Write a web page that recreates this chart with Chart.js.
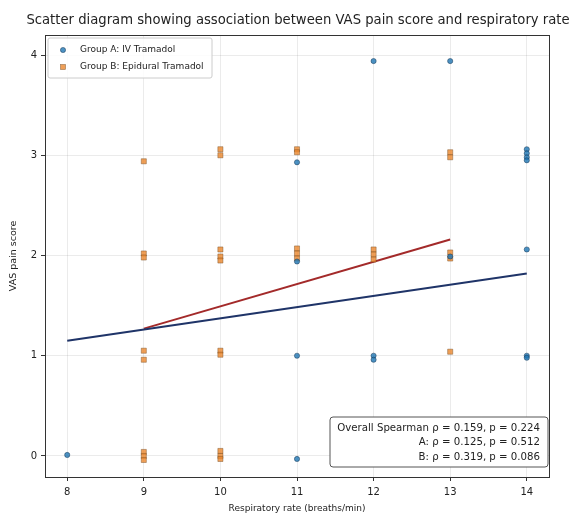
<!DOCTYPE html>
<html>
<head>
<meta charset="utf-8">
<script src="https://cdn.jsdelivr.net/npm/chart.js@4"></script>
<style>
  html, body { margin: 0; padding: 0; background: #fff; }
  #wrap { width: 575px; height: 518px; }
</style>
</head>
<body>
<div id="wrap"><canvas id="chart" width="575" height="518"></canvas></div>
<script>
// Group A: IV Tramadol (jittered)
const groupAX = [8, 11, 11, 11, 11, 12, 12, 12, 13, 13, 14, 14, 14, 14, 14, 14, 14];
const groupAY = [0.01, 2.93, 1.94, 1.0, -0.03, 3.94, 1.0, 0.96, 3.94, 1.99, 3.06, 3.02, 2.98, 2.95, 2.06, 1.0, 0.98];

// Group B: Epidural Tramadol (jittered)
const groupBX = [9, 9, 9, 9, 9, 9, 9, 9,
  10, 10, 10, 10, 10, 10, 10, 10, 10, 10,
  11, 11, 11, 11, 11,
  12, 12, 12,
  13, 13, 13, 13, 13];
const groupBY = [2.94, 2.02, 1.98, 1.05, 0.96, 0.04, 0.0, -0.04,
  3.06, 3.0, 2.06, 1.99, 1.95, 1.05, 1.01, 0.05, 0.0, -0.03,
  3.06, 3.03, 2.07, 2.02, 1.97,
  2.06, 2.01, 1.96,
  3.03, 2.98, 2.03, 1.97, 1.04];

// fitted trend lines
const fitAX = [8, 14];
const fitAY = [1.15, 1.82];
const fitBX = [9, 13];
const fitBY = [1.27, 2.16];

const xTicks = [8, 9, 10, 11, 12, 13, 14];
const yTicks = [0, 1, 2, 3, 4];

const titleText = 'Scatter diagram showing association between VAS pain score and respiratory rate';
const legendLabels = ['Group A: IV Tramadol', 'Group B: Epidural Tramadol'];
const statsLines = [
  'Overall Spearman ρ = 0.159, p = 0.224',
  'A: ρ = 0.125, p = 0.512',
  'B: ρ = 0.319, p = 0.086'
];

const toPoints = (xs, ys) => xs.map((x, i) => ({ x, y: ys[i] }));

const blueFill = 'rgba(31,119,180,0.8)';
const blueEdge = 'rgba(20,50,80,0.8)';
const orangeFill = 'rgba(235,135,45,0.8)';
const orangeEdge = 'rgba(110,70,30,0.7)';
const FONT = 'DejaVu Sans';

function roundRect(ctx, x, y, w, h, r) {
  ctx.beginPath();
  ctx.moveTo(x + r, y);
  ctx.lineTo(x + w - r, y);
  ctx.quadraticCurveTo(x + w, y, x + w, y + r);
  ctx.lineTo(x + w, y + h - r);
  ctx.quadraticCurveTo(x + w, y + h, x + w - r, y + h);
  ctx.lineTo(x + r, y + h);
  ctx.quadraticCurveTo(x, y + h, x, y + h - r);
  ctx.lineTo(x, y + r);
  ctx.quadraticCurveTo(x, y, x + r, y);
  ctx.closePath();
}

// frame, title, legend box and stats box
const extras = {
  id: 'extras',
  afterDraw(chart) {
    const { ctx, chartArea: a } = chart;
    ctx.save();
    ctx.strokeStyle = '#333';
    ctx.lineWidth = 1;
    ctx.strokeRect(a.left + 0.5, a.top + 0.5, a.right - a.left, a.bottom - a.top);

    ctx.fillStyle = '#222';
    ctx.font = `13.2px "${FONT}"`;
    ctx.textAlign = 'center';
    ctx.textBaseline = 'middle';
    ctx.fillText(titleText, 298, 21);

    // legend
    roundRect(ctx, a.left + 3, a.top + 3, 164, 40, 2);
    ctx.fillStyle = 'rgba(255,255,255,0.85)';
    ctx.fill();
    ctx.strokeStyle = '#ccc';
    ctx.stroke();
    ctx.font = `9px "${FONT}"`;
    ctx.textAlign = 'left';
    const lx = a.left + 18, ly1 = a.top + 15, ly2 = a.top + 32;
    ctx.beginPath();
    ctx.arc(lx, ly1, 2.6, 0, Math.PI * 2);
    ctx.fillStyle = blueFill; ctx.fill();
    ctx.strokeStyle = blueEdge; ctx.lineWidth = 0.6; ctx.stroke();
    ctx.fillStyle = orangeFill;
    ctx.fillRect(lx - 2.5, ly2 - 2.5, 5, 5);
    ctx.strokeStyle = orangeEdge; ctx.strokeRect(lx - 2.5, ly2 - 2.5, 5, 5);
    ctx.fillStyle = '#222';
    ctx.fillText(legendLabels[0], lx + 17, ly1);
    ctx.fillText(legendLabels[1], lx + 17, ly2);

    // spearman stats
    const bx = 330, by = 417, bw = 218, bh = 50;
    roundRect(ctx, bx, by, bw, bh, 3);
    ctx.fillStyle = '#fff';
    ctx.fill();
    ctx.strokeStyle = '#555';
    ctx.lineWidth = 1;
    ctx.stroke();
    ctx.font = `10.2px "${FONT}"`;
    ctx.textAlign = 'right';
    ctx.fillStyle = '#222';
    statsLines.forEach((t, i) => ctx.fillText(t, bx + bw - 8, by + 11 + i * 14.5));
    ctx.restore();
  }
};

new Chart(document.getElementById('chart'), {
  type: 'scatter',
  data: {
    datasets: [
      {
        label: legendLabels[0],
        data: toPoints(groupAX, groupAY),
        pointStyle: 'circle',
        pointRadius: 2.6,
        backgroundColor: blueFill,
        borderColor: blueEdge,
        borderWidth: 0.6
      },
      {
        label: legendLabels[1],
        data: toPoints(groupBX, groupBY),
        pointStyle: 'rect',
        pointRadius: 3.6,
        backgroundColor: orangeFill,
        borderColor: orangeEdge,
        borderWidth: 0.6
      },
      {
        label: 'fit A',
        type: 'line',
        data: toPoints(fitAX, fitAY),
        borderColor: '#1f3468',
        borderWidth: 2,
        pointRadius: 0
      },
      {
        label: 'fit B',
        type: 'line',
        data: toPoints(fitBX, fitBY),
        borderColor: '#a32a2a',
        borderWidth: 2,
        pointRadius: 0
      }
    ]
  },
  options: {
    responsive: false,
    animation: false,
    layout: { padding: { left: 0, right: 26, top: 35, bottom: 0 } },
    plugins: {
      legend: { display: false },
      tooltip: { enabled: false }
    },
    scales: {
      x: {
        type: 'linear',
        min: 7.71,
        max: 14.29,
        afterFit: (scale) => { scale.height = 41; },
        afterBuildTicks: (scale) => { scale.ticks = xTicks.map((v) => ({ value: v })); },
        ticks: { font: { family: FONT, size: 10 }, color: '#222', padding: 5 },
        grid: { color: 'rgba(0,0,0,0.08)', tickColor: '#333', tickLength: 4 },
        border: { display: false },
        title: {
          display: true,
          text: 'Respiratory rate (breaths/min)',
          font: { family: FONT, size: 9 },
          color: '#222',
          padding: { top: 2, bottom: 4 }
        }
      },
      y: {
        type: 'linear',
        min: -0.21,
        max: 4.2,
        afterFit: (scale) => { scale.width = 45; },
        afterBuildTicks: (scale) => { scale.ticks = yTicks.map((v) => ({ value: v })); },
        ticks: { font: { family: FONT, size: 10 }, color: '#222', padding: 4 },
        grid: { color: 'rgba(0,0,0,0.08)', tickColor: '#333', tickLength: 4 },
        border: { display: false },
        title: {
          display: true,
          text: 'VAS pain score',
          font: { family: FONT, size: 9.5 },
          color: '#222',
          padding: { top: 8, bottom: 0 }
        }
      }
    }
  },
  plugins: [extras]
});
</script>
</body>
</html>
